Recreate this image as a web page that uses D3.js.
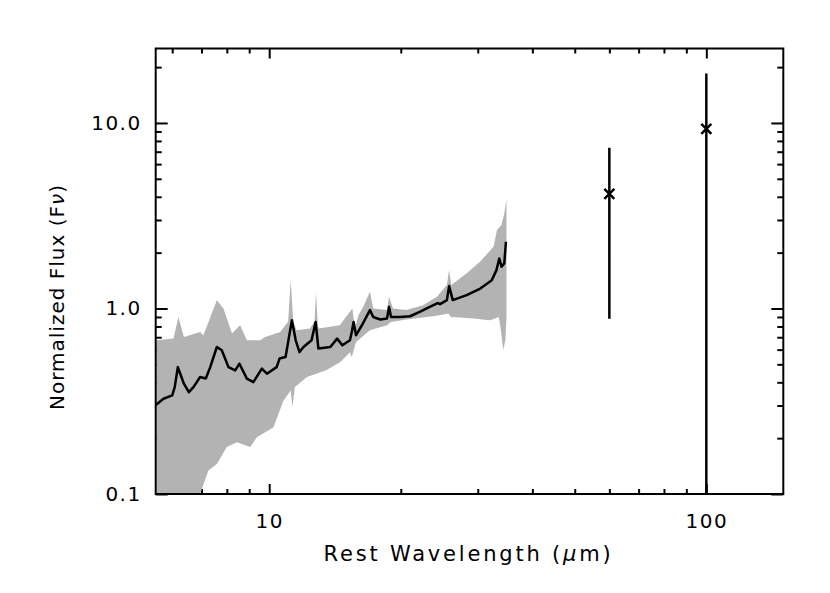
<!DOCTYPE html>
<html><head><meta charset="utf-8">
<script src="https://cdn.jsdelivr.net/npm/d3@7"></script>
<style>
body{margin:0;background:#fff}
text{font-family:"DejaVu Sans",sans-serif;fill:#000}
</style>
</head><body>
<svg id="chart" width="830" height="593"></svg>
<script>
// ---- data ----
const specWave = [5.52,5.73,6.0,6.08,6.18,6.38,6.55,6.71,6.95,7.16,7.33,7.59,7.79,8.07,8.36,8.55,8.89,9.2,9.62,9.88,10.4,10.56,10.9,11.27,11.5,11.73,11.98,12.5,12.77,12.96,13.8,14.3,14.7,15.3,15.45,15.6,15.8,16.3,17.0,17.3,17.95,18.6,18.8,19.0,19.95,21.0,22.1,23.3,24.3,24.6,25.5,25.8,26.3,28.3,30.4,32.3,33.1,33.6,34.0,34.5,34.8];
const specFlux = [0.304,0.326,0.34,0.377,0.483,0.393,0.354,0.377,0.427,0.419,0.483,0.62,0.595,0.483,0.464,0.504,0.419,0.401,0.474,0.445,0.483,0.537,0.548,0.865,0.674,0.582,0.62,0.674,0.846,0.608,0.62,0.688,0.633,0.674,0.747,0.846,0.718,0.812,0.98,0.9,0.872,0.883,1.02,0.9,0.9,0.908,0.958,1.02,1.07,1.055,1.11,1.32,1.11,1.18,1.28,1.42,1.61,1.86,1.68,1.75,2.29];

const bandUpperWave = [5.52,6.04,6.2,6.38,6.95,7.07,7.59,7.86,8.22,8.58,8.89,9.54,9.79,10.6,11.05,11.2,11.35,11.55,12.4,12.7,12.8,12.9,12.96,14.5,15.5,15.7,16.0,16.4,17.0,17.3,18.6,18.8,19.2,20.6,22.5,24.2,25.5,25.8,26.1,28.3,30.4,32.6,33.2,34.0,34.5,34.9];
const bandUpperFlux = [0.674,0.688,0.901,0.702,0.747,0.718,1.109,1.0,0.733,0.812,0.674,0.674,0.702,0.747,0.85,1.422,0.85,0.763,0.78,0.85,1.23,0.85,0.78,0.812,1.0,0.78,0.92,1.02,1.23,1.0,0.98,1.155,1.0,0.98,1.04,1.155,1.34,1.61,1.34,1.55,1.79,2.15,2.65,2.82,3.26,3.85];

const bandLowerWave = [5.52,6.6,6.95,7.26,7.59,8.0,8.44,9.05,9.37,10.23,10.78,11.2,11.3,11.45,12.2,13.5,14.55,15.3,15.45,15.8,17.0,18.6,19.0,20.6,23.7,24.5,25.7,26.1,26.3,29.3,32.0,33.5,33.9,34.3,34.7,34.9];
const bandLowerFlux = [0.05,0.07,0.1,0.134,0.145,0.179,0.19,0.179,0.202,0.229,0.319,0.361,0.294,0.377,0.427,0.464,0.514,0.58,0.548,0.66,0.763,0.812,0.846,0.872,0.908,0.92,0.94,0.894,0.9,0.883,0.865,0.9,0.763,0.6,0.674,0.9];

const photWave = [60, 100];
const photFlux = [4.15, 9.3];
const photLow  = [0.88, 0.05];
const photHigh = [7.35, 18.5];

const xMajorTicks = [10, 100];
const xMajorLabels = ["10", "100"];
const xMinorTicks = [6,7,8,9,20,30,40,50,60,70,80,90];
const yMajorTicks = [0.1, 1, 10];
const yMajorLabels = ["0.1", "1.0", "10.0"];
const yMinorTicks = [0.2,0.3,0.4,0.5,0.6,0.7,0.8,0.9,2,3,4,5,6,7,8,9,20];

const xDomain = [5.5, 150];
const yDomain = [0.1, 25.2];

// ---- layout ----
const margin = {left: 155.7, right: 830 - 783.3, top: 48.5, bottom: 593 - 494};
const W = 830 - margin.left - margin.right;
const H = 593 - margin.top - margin.bottom;

const svg = d3.select("#chart");
const g = svg.append("g").attr("transform", `translate(${margin.left},${margin.top})`);

const x = d3.scaleLog().domain(xDomain).range([0, W]);
const y = d3.scaleLog().domain(yDomain).range([H, 0]);

svg.append("defs").append("clipPath").attr("id", "clip")
  .append("rect").attr("x", 0).attr("y", 0).attr("width", W).attr("height", H);

// ---- axes (ticks inward on all 4 sides) ----
function styleAxis(sel) {
  sel.select(".domain").remove();
  sel.selectAll("line").attr("stroke", "#000").attr("stroke-width", 2);
  sel.selectAll("text").style("font-family", '"DejaVu Sans",sans-serif').style("font-size", "20px").attr("fill", "#000");
}
const xMajLen = 10, xMinLen = 5, yMajLen = 12, yMinLen = 6;

// bottom
g.append("g").attr("transform", `translate(0,${H})`)
  .call(d3.axisBottom(x).tickValues(xMajorTicks).tickSizeInner(-xMajLen).tickSizeOuter(0).tickPadding(20)
    .tickFormat((d, i) => xMajorLabels[i]))
  .call(styleAxis).selectAll("text").attr("letter-spacing", "1.5px");
g.append("g").attr("transform", `translate(0,${H})`)
  .call(d3.axisBottom(x).tickValues(xMinorTicks).tickSizeInner(-xMinLen).tickSizeOuter(0).tickFormat(""))
  .call(styleAxis);
// top
g.append("g")
  .call(d3.axisTop(x).tickValues(xMajorTicks).tickSizeInner(-xMajLen).tickSizeOuter(0).tickFormat(""))
  .call(styleAxis);
g.append("g")
  .call(d3.axisTop(x).tickValues(xMinorTicks).tickSizeInner(-xMinLen).tickSizeOuter(0).tickFormat(""))
  .call(styleAxis);
// left
g.append("g")
  .call(d3.axisLeft(y).tickValues(yMajorTicks).tickSizeInner(-yMajLen).tickSizeOuter(0).tickPadding(14)
    .tickFormat((d, i) => yMajorLabels[i]))
  .call(styleAxis).selectAll("text").attr("letter-spacing", "1.5px");
g.append("g")
  .call(d3.axisLeft(y).tickValues(yMinorTicks).tickSizeInner(-yMinLen).tickSizeOuter(0).tickFormat(""))
  .call(styleAxis);
// right
g.append("g").attr("transform", `translate(${W},0)`)
  .call(d3.axisRight(y).tickValues(yMajorTicks).tickSizeInner(-yMajLen).tickSizeOuter(0).tickFormat(""))
  .call(styleAxis);
g.append("g").attr("transform", `translate(${W},0)`)
  .call(d3.axisRight(y).tickValues(yMinorTicks).tickSizeInner(-yMinLen).tickSizeOuter(0).tickFormat(""))
  .call(styleAxis);

// ---- uncertainty band ----
const upperPts = bandUpperWave.map((w, i) => [w, bandUpperFlux[i]]);
const lowerPts = bandLowerWave.map((w, i) => [w, bandLowerFlux[i]]).reverse();
const bandLine = d3.line().x(d => x(d[0])).y(d => y(d[1]));
g.append("path")
  .attr("clip-path", "url(#clip)")
  .attr("d", bandLine(upperPts.concat(lowerPts)) + "Z")
  .attr("fill", "#b3b3b3").attr("stroke", "none");

// ---- spectrum ----
const specPts = specWave.map((w, i) => [w, specFlux[i]]);
g.append("path")
  .attr("clip-path", "url(#clip)")
  .attr("d", bandLine(specPts))
  .attr("fill", "none").attr("stroke", "#000").attr("stroke-width", 2.5)
  .attr("stroke-linejoin", "round");

// ---- photometry with error bars ----
const phot = photWave.map((w, i) => ({w, f: photFlux[i], lo: photLow[i], hi: photHigh[i]}));
const pg = g.append("g").attr("clip-path", "url(#clip)");
pg.selectAll("line.err").data(phot).join("line").attr("class", "err")
  .attr("x1", d => x(d.w)).attr("x2", d => x(d.w))
  .attr("y1", d => y(d.lo)).attr("y2", d => y(d.hi))
  .attr("stroke", "#000").attr("stroke-width", 2.5);
const s = 5;
pg.selectAll("path.mark").data(phot).join("path").attr("class", "mark")
  .attr("d", d => {
    const cx = x(d.w), cy = y(d.f);
    return `M${cx - s},${cy - s}L${cx + s},${cy + s}M${cx - s},${cy + s}L${cx + s},${cy - s}`;
  })
  .attr("stroke", "#000").attr("stroke-width", 2.5);

// ---- frame ----
g.append("rect").attr("x", 0).attr("y", 0).attr("width", W).attr("height", H)
  .attr("fill", "none").attr("stroke", "#000").attr("stroke-width", 2);

// ---- axis titles ----
const xt = svg.append("text")
  .attr("x", 468.5)
  .attr("y", 561)
  .attr("text-anchor", "middle")
  .style("font-size", "21px").attr("letter-spacing", "2.8px");
xt.append("tspan").text("Rest Wavelength (");
xt.append("tspan").style("font-style", "italic").text("μ");
xt.append("tspan").text("m)");

const yt = svg.append("text")
  .attr("transform", `translate(64,297) rotate(-90)`)
  .attr("text-anchor", "middle")
  .style("font-size", "20px").attr("letter-spacing", "1px");
yt.append("tspan").text("Normalized Flux (F");
yt.append("tspan").style("font-style", "italic").text("ν");
yt.append("tspan").text(")");
</script>
</body></html>
